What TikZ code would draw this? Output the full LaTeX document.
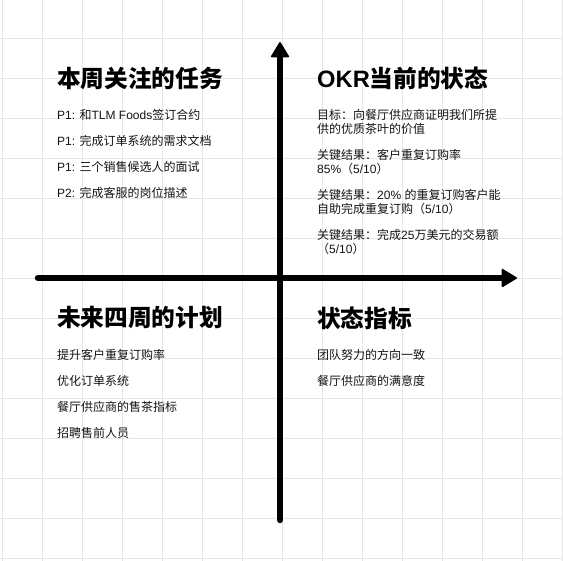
\documentclass[tikz,border=0pt]{standalone}
\usepackage{fontspec}
\setmainfont{Noto Sans CJK SC}
\newfontfamily\lat{Liberation Sans}
\usetikzlibrary{arrows.meta}
\definecolor{gridc}{HTML}{E6E6E6}
\definecolor{ink}{HTML}{141414}
\begin{document}
\begin{tikzpicture}[x=1pt,y=-1pt,
  title/.style={anchor=west,inner sep=0pt,font=\bfseries\fontsize{23.7}{26}\selectfont,text=black},
  item/.style={anchor=west,inner sep=0pt,font=\fontsize{12}{14}\selectfont,text=ink,align=left},
  gridline/.style={gridc,line width=0.8pt},
  axis/.style={line width=6.5pt,line cap=round,black,
    -{Triangle[width=19pt,length=16pt,round,line width=1.5pt]}}]
\useasboundingbox (0,0) rectangle (563,561);
\fill[white] (0,0) rectangle (563,561);
\foreach \x in {2,42,...,562} \draw[gridline] (\x,0) -- (\x,561);
\foreach \y in {38,78,...,558} \draw[gridline] (0,\y) -- (563,\y);
% axes
\coordinate (vb) at (280,520);
\coordinate (vt) at (280,42);
\coordinate (hl) at (38,278);
\coordinate (hr) at (517,278);
\draw[axis] (vb) -- (vt);
\draw[axis] (hl) -- (hr);
% titles
\node[title] (t1) at (57,78) {本周关注的任务};
\node[title] (t2) at (317,78) {{\lat OKR}当前的状态};
\node[title] (t3) at (57,318) {未来四周的计划};
\node[title] (t4) at (317,318) {状态指标};
% quadrant 1
\node[item] (a1) at (57,115) {{\lat P1: }和{\lat TLM Foods}签订合约};
\node[item] (a2) at (57,141) {{\lat P1: }完成订单系统的需求文档};
\node[item] (a3) at (57,167) {{\lat P1: }三个销售候选人的面试};
\node[item] (a4) at (57,193) {{\lat P2: }完成客服的岗位描述};
% quadrant 2
\node[item] (b1) at (317,122) {目标：向餐厅供应商证明我们所提\\供的优质茶叶的价值};
\node[item] (b2) at (317,162) {关键结果：客户重复订购率\\{\lat 85\%}（{\lat 5/10}）};
\node[item] (b3) at (317,202) {关键结果：{\lat 20\% }的重复订购客户能\\自助完成重复订购（{\lat 5/10}）};
\node[item] (b4) at (317,242) {关键结果：完成{\lat 25}万美元的交易额\\（{\lat 5/10}）};
% quadrant 3
\node[item] (c1) at (57,355) {提升客户重复订购率};
\node[item] (c2) at (57,381) {优化订单系统};
\node[item] (c3) at (57,407) {餐厅供应商的售茶指标};
\node[item] (c4) at (57,433) {招聘售前人员};
% quadrant 4
\node[item] (d1) at (317,355) {团队努力的方向一致};
\node[item] (d2) at (317,381) {餐厅供应商的满意度};
\end{tikzpicture}
\end{document}
